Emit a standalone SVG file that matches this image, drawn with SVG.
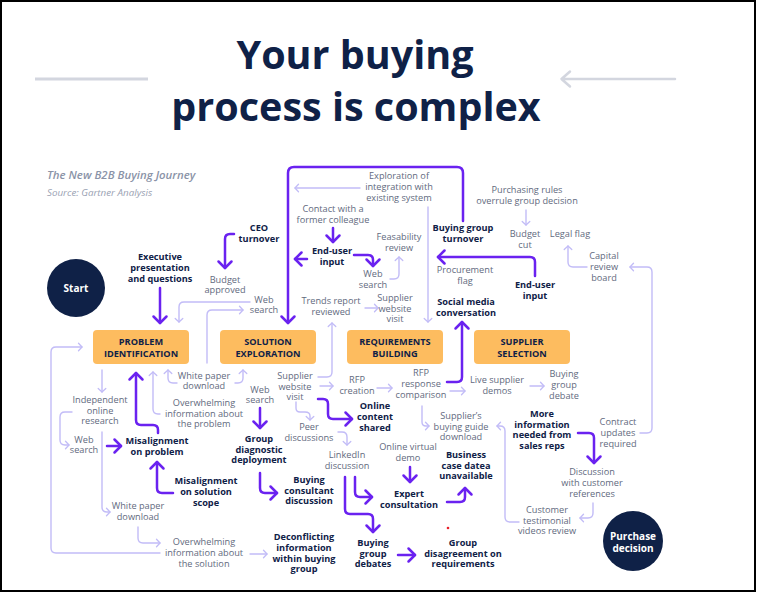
<svg xmlns="http://www.w3.org/2000/svg" width="757" height="593" viewBox="0 0 757 593">
<defs>
<style>
text{font-family:"Open Sans","Noto Sans","Liberation Sans",sans-serif;text-anchor:middle}
.g{font-size:9.2px;fill:#626a7e}
.b{font-size:9.2px;font-weight:700;fill:#0f2147}
.st{font-size:9.2px;font-weight:700;fill:#0f2147}
.box{fill:#fdbc5f}
.p{fill:none;stroke:#6a22f0;stroke-width:2.5;stroke-linecap:round;stroke-linejoin:round;marker-end:url(#ap)}
.l{fill:none;stroke:#c2bcf7;stroke-width:1.4;stroke-linecap:round;stroke-linejoin:round;marker-end:url(#al)}
</style>
<marker id="ap" markerUnits="userSpaceOnUse" markerWidth="20" markerHeight="20" refX="10" refY="10" orient="auto" viewBox="0 0 20 20">
<path d="M3.5,3.5 L10,10 L3.5,16.5" fill="none" stroke="#6a22f0" stroke-width="2.5" stroke-linecap="round" stroke-linejoin="round"/>
</marker>
<marker id="al" markerUnits="userSpaceOnUse" markerWidth="12" markerHeight="12" refX="6" refY="6" orient="auto" viewBox="0 0 12 12">
<path d="M2.5,2.2 L6,6 L2.5,9.8" fill="none" stroke="#c2bcf7" stroke-width="1.3" stroke-linecap="round" stroke-linejoin="round"/>
</marker>
</defs>
<rect x="0" y="0" width="757" height="593" fill="#ffffff"/>
<rect x="1" y="1" width="754" height="590" fill="none" stroke="#000" stroke-width="2"/>

<g id="title">
<text x="355" y="69" style="font-size:39.5px;font-weight:700;fill:#0f2147">Your buying</text>
<text x="356" y="121" style="font-size:39.5px;font-weight:700;fill:#0f2147">process is complex</text>
<path d="M35,79 H148" stroke="#d3d6df" stroke-width="3" fill="none"/>
<path d="M562,79 H675 M570,71.5 L561.5,79 L570,86.5" stroke="#d3d6df" stroke-width="2.5" fill="none" stroke-linecap="round" stroke-linejoin="round"/>
</g>
<g id="subtitle">
<text x="47" y="179" style="text-anchor:start;font-size:11.4px;font-style:italic;font-weight:600;fill:#8a93a7">The New B2B Buying Journey</text>
<text x="47" y="196" style="text-anchor:start;font-size:9.8px;font-style:italic;fill:#9aa2b3">Source: Gartner Analysis</text>
</g>

<g id="connectors">
<path class="p" d="M234,234 H230 Q225,234 225,239 V268"/>
<path class="p" d="M160,288 V323"/>
<path class="p" d="M463,221 V173 Q463,167 457,167 H294 Q288,167 288,173 V323"/>
<path class="p" d="M333,228 V242"/>
<path class="p" d="M307,259 H295"/>
<path class="p" d="M354,255 H368 Q373,255 373,260 V266"/>
<path class="p" d="M535,276 V262 Q535,257 530,257 H438"/>
<path class="p" d="M447,382 H457 Q462,382 462,377 V322"/>
<path class="p" d="M158,433 V430 Q158,425 153,425 H141 Q136,425 136,420 V373"/>
<path class="p" d="M107,446 H121"/>
<path class="p" d="M173,493 H162 Q157,493 157,488 V462"/>
<path class="p" d="M260,408 V428"/>
<path class="p" d="M260,473 V488 Q260,493 265,493 H277"/>
<path class="p" d="M318,399 H323 Q328,399 328,404 V414 Q328,419 333,419 H352"/>
<path class="p" d="M410,467 V482"/>
<path class="p" d="M355,477 V492 Q355,497 360,497 H372"/>
<path class="p" d="M345,477 V509 Q345,514 350,514 H368 Q373,514 373,519 V532"/>
<path class="p" d="M447,502 H460 Q465,502 465,497 V488"/>
<path class="p" d="M398,555 H415"/>
<path class="p" d="M578,433 H589 Q594,433 594,438 V463"/>
<path class="l" d="M250,302 H184 Q179,302 179,307 V322"/>
<path class="l" d="M207,363 V315 Q207,310 212,310 H243"/>
<path class="l" d="M177,383 H173 Q168,383 168,378 V370"/>
<path class="l" d="M235,383 H238 Q243,383 243,378 V370"/>
<path class="l" d="M102,370 V392"/>
<path class="l" d="M72,412 H65 Q60,412 60,417 V440 Q60,445 65,445 H69"/>
<path class="l" d="M160,414 H158 Q153,414 153,409 V372"/>
<path class="l" d="M102,432 V507 Q102,512 107,512 H110"/>
<path class="l" d="M138,527 V538 Q138,543 143,543 H160"/>
<path class="l" d="M250,554 H267"/>
<path class="l" d="M160,553 H56 Q51,553 51,548 V352 Q51,347 56,347 H82"/>
<path class="l" d="M318,377 H327 Q332,377 332,372 V323"/>
<path class="l" d="M320,386 H333"/>
<path class="l" d="M377,388 H392"/>
<path class="l" d="M450,391 H465"/>
<path class="l" d="M530,386 H544"/>
<path class="l" d="M422,406 V422 Q422,426 426,426 H429"/>
<path class="l" d="M296,402 V408 Q296,412 300,412 H305 Q310,412 310,416 V420"/>
<path class="l" d="M338,432 H342 Q347,432 347,437 V445"/>
<path class="l" d="M365,308 H378"/>
<path class="l" d="M390,279 H394 Q399,279 399,274 V257"/>
<path class="l" d="M360,188 H295"/>
<path class="l" d="M428,207 V322"/>
<path class="l" d="M526,210 V225"/>
<path class="l" d="M587,267 H573 Q568,267 568,262 V246"/>
<path class="l" d="M640,433 H647 Q652,433 652,428 V272 Q652,267 647,267 H630"/>
<path class="l" d="M593,503 V513 Q593,518 588,518 H580"/>
<path class="l" d="M519,522 H510 Q505,522 505,517 V431 Q505,426 500,426 H497"/>
</g>

<g id="start"><circle cx="76" cy="288" r="29" fill="#0f2147"/><text x="76" y="292" style="font-size:10px;font-weight:700;fill:#fff">Start</text></g>
<g id="purchase-decision"><circle cx="633" cy="541" r="30" fill="#0f2147"/><text x="633" y="540" style="font-size:10px;font-weight:700;fill:#fff">Purchase<tspan x="633" y="551.5">decision</tspan></text></g>

<g id="stage-problem"><rect class="box" x="93" y="330" width="96" height="34" rx="4"/><text class="st" x="141" y="345">PROBLEM<tspan x="141" y="357">IDENTIFICATION</tspan></text></g>
<g id="stage-solution"><rect class="box" x="220" y="330" width="96" height="34" rx="4"/><text class="st" x="268" y="345">SOLUTION<tspan x="268" y="357">EXPLORATION</tspan></text></g>
<g id="stage-requirements"><rect class="box" x="347" y="330" width="96" height="34" rx="4"/><text class="st" x="395" y="345">REQUIREMENTS<tspan x="395" y="357">BUILDING</tspan></text></g>
<g id="stage-supplier"><rect class="box" x="474" y="330" width="96" height="34" rx="4"/><text class="st" x="522" y="345">SUPPLIER<tspan x="522" y="357">SELECTION</tspan></text></g>

<g id="ceo-turnover"><text class="b" x="259" y="231">CEO<tspan x="259" y="242">turnover</tspan></text></g>
<g id="executive-presentation"><text class="b" x="160" y="260">Executive<tspan x="160" y="271">presentation</tspan><tspan x="160" y="282">and questions</tspan></text></g>
<g id="budget-approved"><text class="g" x="225" y="283">Budget<tspan x="225" y="293">approved</tspan></text></g>
<g id="web-search-1"><text class="g" x="264" y="303">Web<tspan x="264" y="313">search</tspan></text></g>
<g id="white-paper-1"><text class="g" x="204" y="379">White paper<tspan x="204" y="389">download</tspan></text></g>
<g id="independent-research"><text class="g" x="100" y="403">Independent<tspan x="100" y="414">online</tspan><tspan x="100" y="424">research</tspan></text></g>
<g id="web-search-2"><text class="g" x="84" y="443">Web<tspan x="84" y="453">search</tspan></text></g>
<g id="overwhelming-problem"><text class="g" x="204" y="406">Overwhelming<tspan x="204" y="417">information about</tspan><tspan x="204" y="427">the problem</tspan></text></g>
<g id="misalignment-problem"><text class="b" x="157" y="444">Misalignment<tspan x="157" y="455">on problem</tspan></text></g>
<g id="misalignment-scope"><text class="b" x="206" y="484">Misalignment<tspan x="206" y="495">on solution</tspan><tspan x="206" y="506">scope</tspan></text></g>
<g id="white-paper-2"><text class="g" x="138" y="509">White paper<tspan x="138" y="520">download</tspan></text></g>
<g id="overwhelming-solution"><text class="g" x="204" y="545">Overwhelming<tspan x="204" y="556">information about</tspan><tspan x="204" y="567">the solution</tspan></text></g>
<g id="deconflicting"><text class="b" x="304" y="540">Deconflicting<tspan x="304" y="551">information</tspan><tspan x="304" y="561.5">within buying</tspan><tspan x="304" y="572">group</tspan></text></g>
<g id="web-search-3"><text class="g" x="260" y="393">Web<tspan x="260" y="403">search</tspan></text></g>
<g id="group-diagnostic"><text class="b" x="259" y="442">Group<tspan x="259" y="452.5">diagnostic</tspan><tspan x="259" y="463">deployment</tspan></text></g>
<g id="buying-consultant"><text class="b" x="309" y="483">Buying<tspan x="309" y="493.5">consultant</tspan><tspan x="309" y="504">discussion</tspan></text></g>
<g id="supplier-website-2"><text class="g" x="295" y="379">Supplier<tspan x="295" y="389.5">website</tspan><tspan x="295" y="400">visit</tspan></text></g>
<g id="peer-discussions"><text class="g" x="309" y="430">Peer<tspan x="309" y="441">discussions</tspan></text></g>
<g id="linkedin"><text class="g" x="347" y="458">LinkedIn<tspan x="347" y="468.5">discussion</tspan></text></g>
<g id="online-content"><text class="b" x="375" y="409">Online<tspan x="375" y="420">content</tspan><tspan x="375" y="431">shared</tspan></text></g>
<g id="online-demo"><text class="g" x="408" y="450">Online virtual<tspan x="408" y="461">demo</tspan></text></g>
<g id="expert-consultation"><text class="b" x="409" y="497">Expert<tspan x="409" y="508">consultation</tspan></text></g>
<g id="business-case"><text class="b" x="466" y="458">Business<tspan x="466" y="468.5">case datea</tspan><tspan x="466" y="479">unavailable</tspan></text></g>
<g id="buying-group-debates"><text class="b" x="373" y="546">Buying<tspan x="373" y="556.5">group</tspan><tspan x="373" y="567">debates</tspan></text></g>
<g id="group-disagreement"><text class="b" x="463" y="546">Group<tspan x="463" y="556.5">disagreement on</tspan><tspan x="463" y="567">requirements</tspan></text></g>
<g id="rfp-creation"><text class="g" x="357" y="383">RFP<tspan x="357" y="393.5">creation</tspan></text></g>
<g id="rfp-response"><text class="g" x="421" y="376">RFP<tspan x="421" y="387">response</tspan><tspan x="421" y="398">comparison</tspan></text></g>
<g id="live-demos"><text class="g" x="497" y="383">Live supplier<tspan x="497" y="394">demos</tspan></text></g>
<g id="buying-group-debate"><text class="g" x="564" y="377">Buying<tspan x="564" y="388">group</tspan><tspan x="564" y="399">debate</tspan></text></g>
<g id="buying-guide"><text class="g" x="461" y="419">Supplier’s<tspan x="461" y="430">buying guide</tspan><tspan x="461" y="440">download</tspan></text></g>
<g id="trends-report"><text class="g" x="331" y="304">Trends report<tspan x="331" y="315">reviewed</tspan></text></g>
<g id="supplier-website-1"><text class="g" x="395" y="301">Supplier<tspan x="395" y="312">website</tspan><tspan x="395" y="322">visit</tspan></text></g>
<g id="web-search-4"><text class="g" x="373" y="277">Web<tspan x="373" y="288">search</tspan></text></g>
<g id="feasability"><text class="g" x="399" y="240">Feasability<tspan x="399" y="251">review</tspan></text></g>
<g id="contact-colleague"><text class="g" x="333" y="212">Contact with a<tspan x="333" y="223">former colleague</tspan></text></g>
<g id="end-user-1"><text class="b" x="332" y="254">End-user<tspan x="332" y="264.5">input</tspan></text></g>
<g id="exploration"><text class="g" x="399" y="179">Exploration of<tspan x="399" y="190">integration with</tspan><tspan x="399" y="201">existing system</tspan></text></g>
<g id="buying-group-turnover"><text class="b" x="463" y="231">Buying group<tspan x="463" y="242">turnover</tspan></text></g>
<g id="procurement-flag"><text class="g" x="465" y="273">Procurement<tspan x="465" y="284">flag</tspan></text></g>
<g id="end-user-2"><text class="b" x="535" y="288">End-user<tspan x="535" y="298.5">input</tspan></text></g>
<g id="social-media"><text class="b" x="466" y="305">Social media<tspan x="466" y="316">conversation</tspan></text></g>
<g id="purchasing-rules"><text class="g" x="527" y="193">Purchasing rules<tspan x="527" y="203.5">overrule group decision</tspan></text></g>
<g id="budget-cut"><text class="g" x="525" y="237">Budget<tspan x="525" y="248">cut</tspan></text></g>
<g id="legal-flag"><text class="g" x="570" y="237">Legal flag</text></g>
<g id="capital-review"><text class="g" x="604" y="259">Capital<tspan x="604" y="270">review</tspan><tspan x="604" y="281">board</tspan></text></g>
<g id="contract-updates"><text class="g" x="618" y="425">Contract<tspan x="618" y="436">updates</tspan><tspan x="618" y="447">required</tspan></text></g>
<g id="more-information"><text class="b" x="542" y="417">More<tspan x="542" y="427.5">information</tspan><tspan x="542" y="438">needed from</tspan><tspan x="542" y="449">sales reps</tspan></text></g>
<g id="customer-references"><text class="g" x="592" y="475">Discussion<tspan x="592" y="486">with customer</tspan><tspan x="592" y="497">references</tspan></text></g>
<g id="customer-testimonial"><text class="g" x="547" y="513">Customer<tspan x="547" y="523.5">testimonial</tspan><tspan x="547" y="534">videos review</tspan></text></g>
<circle cx="448" cy="528" r="1.3" fill="#e8202a"/>
</svg>
